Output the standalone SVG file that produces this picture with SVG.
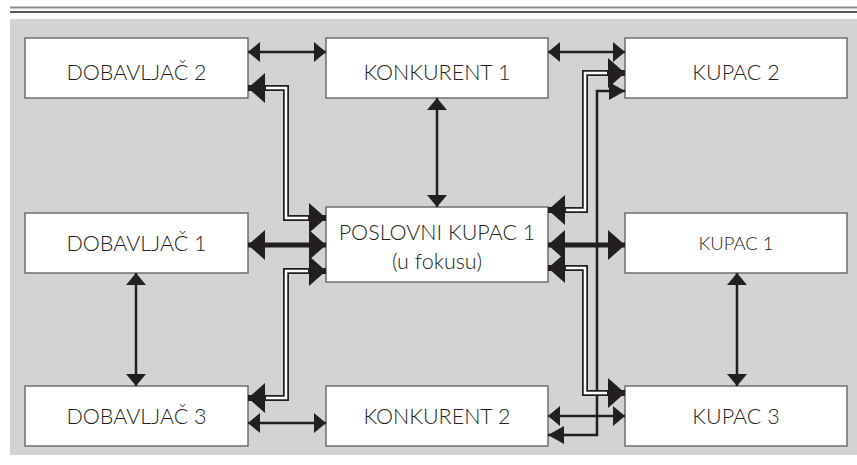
<svg xmlns="http://www.w3.org/2000/svg" width="857" height="465" viewBox="0 0 857 465">
<style>
.bg{fill:#d1d3d4}
.box rect{fill:#fff;stroke:#6d6e71;stroke-width:1.5}
.box text{font-family:Lato,"Open Sans","Liberation Sans",sans-serif;font-weight:300;font-size:21.5px;fill:#231f20;text-anchor:middle}
.thin{stroke:#231f20;stroke-width:2.5;fill:none;marker-start:url(#ah);marker-end:url(#ah)}
.thick{stroke:#231f20;stroke-width:5;fill:none;marker-start:url(#bh);marker-end:url(#bh)}
.single{stroke:#231f20;stroke-width:2.5;fill:none;marker-start:url(#mh);marker-end:url(#mh)}
.hollow{stroke:#231f20;stroke-width:6;fill:none;marker-start:url(#bh);marker-end:url(#bh)}
.inner{stroke:#fff;stroke-width:2.5;fill:none}
</style>
<defs>
<marker id="ah" markerUnits="userSpaceOnUse" markerWidth="12" markerHeight="20" refX="12" refY="10" orient="auto-start-reverse" viewBox="0 0 12 20"><path d="M0,0 L12,10 L0,20 Z" fill="#231f20"/></marker>
<marker id="bh" markerUnits="userSpaceOnUse" markerWidth="17" markerHeight="30" refX="17" refY="15" orient="auto-start-reverse" viewBox="0 0 17 30"><path d="M0,0 L17,15 L0,30 Z" fill="#231f20"/></marker>
<marker id="mh" markerUnits="userSpaceOnUse" markerWidth="16" markerHeight="18" refX="16" refY="9" orient="auto-start-reverse" viewBox="0 0 16 18"><path d="M0,0 L16,9 L0,18 Z" fill="#231f20"/></marker>
</defs>
<line x1="10" y1="7.5" x2="857" y2="7.5" stroke="#8a8c8e" stroke-width="2"/>
<line x1="10" y1="12" x2="857" y2="12" stroke="#231f20" stroke-width="1.3"/>
<rect class="bg" x="10" y="19" width="847" height="436"/>

<g id="dobavljac2" class="box"><rect x="25" y="38" width="223" height="60"/><text x="136.5" y="80">DOBAVLJAČ 2</text></g>
<g id="konkurent1" class="box"><rect x="326" y="38" width="222" height="60"/><text x="437" y="80">KONKURENT 1</text></g>
<g id="kupac2" class="box"><rect x="625" y="38" width="222" height="60"/><text x="736" y="80">KUPAC 2</text></g>
<g id="dobavljac1" class="box"><rect x="25" y="213" width="223" height="60"/><text x="136.5" y="251">DOBAVLJAČ 1</text></g>
<g id="poslovni" class="box"><rect x="326" y="207" width="222" height="75"/><text x="437" y="240">POSLOVNI KUPAC 1</text><text x="437" y="269">(u fokusu)</text></g>
<g id="kupac1" class="box"><rect x="625" y="213" width="222" height="60"/><text x="736" y="250" style="font-size:18.5px">KUPAC 1</text></g>
<g id="dobavljac3" class="box"><rect x="25" y="386" width="223" height="60"/><text x="136.5" y="424">DOBAVLJAČ 3</text></g>
<g id="konkurent2" class="box"><rect x="326" y="386" width="222" height="60"/><text x="437" y="424">KONKURENT 2</text></g>
<g id="kupac3" class="box"><rect x="625" y="386" width="222" height="60"/><text x="736" y="424">KUPAC 3</text></g>

<g id="connectors">
<path class="thin" d="M248,52 H326"/>
<path class="thin" d="M548,52 H625"/>
<path class="thin" d="M248,423 H326"/>
<path class="thin" d="M548,416 H625"/>
<path class="thin" d="M136,273 V386"/>
<path class="thin" d="M437,98 V207"/>
<path class="thin" d="M737,273 V386"/>
<path class="thick" d="M248,245 H326"/>
<path class="thick" d="M548,245 H625"/>
<path class="single" d="M548,435 H597 V91 H625"/>
<path class="hollow" d="M326,218 H286 V88 H248"/>
<path class="inner" d="M308,218 H286 V88 H266"/>
<path class="hollow" d="M326,271 H286 V398 H248"/>
<path class="inner" d="M308,271 H286 V398 H266"/>
<path class="hollow" d="M548,210 H585 V73 H625"/>
<path class="inner" d="M566,210 H585 V73 H607"/>
<path class="hollow" d="M548,268 H585 V393 H625"/>
<path class="inner" d="M566,268 H585 V393 H607"/>
</g>
</svg>
